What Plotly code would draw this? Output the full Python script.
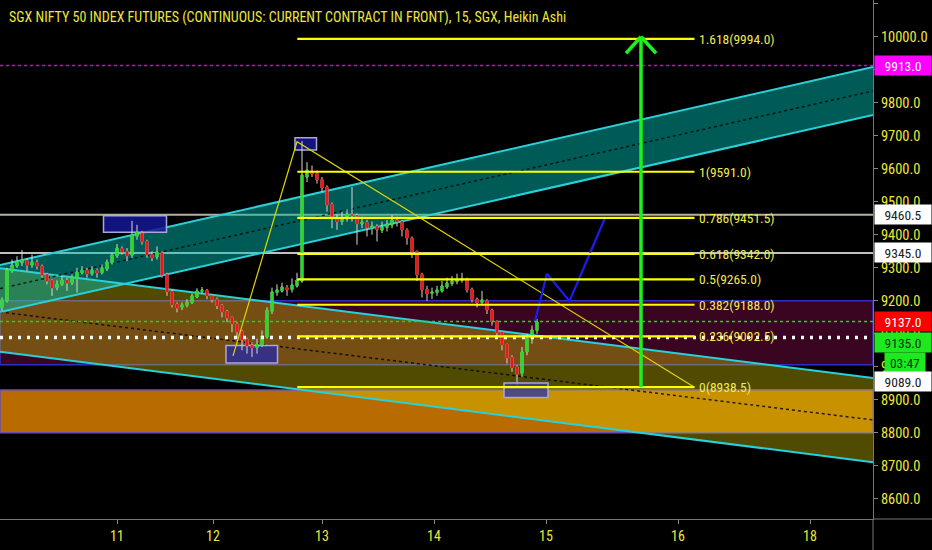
import plotly.graph_objects as go

# ---------------- data ----------------
day_labels = ["11", "12", "13", "14", "15", "16", "18"]
day_pos = [23.0, 42.2, 64.0, 86.4, 108.8, 135.2, 161.6]

opens = [9180, 9200, 9290, 9305, 9315, 9322, 9308, 9316, 9305, 9280,
         9262, 9240, 9250, 9262, 9255, 9268, 9285, 9292, 9282, 9292,
         9285, 9296, 9315, 9336, 9358, 9350, 9338, 9395, 9405, 9380,
         9340, 9333, 9345, 9280, 9228, 9190, 9180, 9186, 9195, 9212,
         9228, 9232, 9215, 9205, 9186, 9168, 9150, 9130, 9108, 9084,
         9065, 9058, 9066, 9090, 9168, 9225, 9230, 9240, 9234, 9245,
         9260, 9575, 9594, 9586, 9568, 9545, 9492, 9450, 9440, 9448,
         9460, 9458, 9433, 9438, 9420, 9426, 9414, 9422, 9430, 9444,
         9440, 9415, 9390, 9350, 9280, 9235, 9222, 9225, 9230, 9242,
         9252, 9258, 9262, 9265, 9235, 9205, 9195, 9200, 9172, 9138,
         9105, 9068, 9028, 9000, 8980, 9045, 9085, 9110]
highs = [9210, 9300, 9325, 9335, 9354, 9330, 9340, 9325, 9310, 9285,
         9265, 9262, 9275, 9270, 9280, 9300, 9305, 9300, 9305, 9298,
         9310, 9325, 9345, 9372, 9365, 9360, 9442, 9430, 9412, 9385,
         9350, 9365, 9350, 9285, 9235, 9195, 9195, 9205, 9222, 9238,
         9242, 9236, 9220, 9210, 9190, 9172, 9152, 9135, 9112, 9088,
         9075, 9085, 9110, 9180, 9240, 9250, 9255, 9248, 9268, 9285,
         9684, 9620, 9610, 9595, 9575, 9550, 9498, 9462, 9470, 9478,
         9545, 9465, 9455, 9446, 9440, 9432, 9440, 9445, 9460, 9455,
         9445, 9420, 9395, 9352, 9285, 9245, 9240, 9245, 9260, 9270,
         9275, 9282, 9285, 9270, 9240, 9210, 9230, 9205, 9176, 9140,
         9108, 9070, 9035, 9005, 9060, 9100, 9125, 9145]
lows = [9170, 9195, 9285, 9300, 9305, 9290, 9300, 9295, 9270, 9250,
        9215, 9232, 9245, 9230, 9248, 9225, 9280, 9270, 9276, 9270,
        9280, 9290, 9310, 9330, 9340, 9320, 9330, 9385, 9370, 9330,
        9320, 9325, 9270, 9215, 9180, 9165, 9172, 9180, 9190, 9208,
        9222, 9205, 9195, 9175, 9150, 9135, 9105, 9085, 9050, 9040,
        9030, 9040, 9060, 9085, 9160, 9215, 9225, 9215, 9225, 9240,
        9255, 9560, 9575, 9555, 9530, 9470, 9420, 9415, 9430, 9440,
        9440, 9370, 9420, 9395, 9400, 9380, 9405, 9410, 9420, 9425,
        9395, 9370, 9330, 9260, 9210, 9200, 9205, 9215, 9225, 9236,
        9245, 9250, 9255, 9225, 9195, 9180, 9190, 9160, 9125, 9090,
        9050, 9010, 8985, 8935, 8970, 9035, 9070, 9100]
closes = [9203, 9293, 9308, 9318, 9324, 9308, 9318, 9305, 9278, 9260,
          9239, 9251, 9263, 9254, 9272, 9287, 9293, 9281, 9293, 9284,
          9299, 9318, 9339, 9360, 9348, 9336, 9400, 9409, 9379, 9339,
          9330, 9348, 9278, 9227, 9188, 9178, 9188, 9197, 9215, 9230,
          9233, 9215, 9203, 9185, 9166, 9148, 9130, 9106, 9082, 9063,
          9057, 9069, 9094, 9172, 9227, 9233, 9242, 9233, 9248, 9263,
          9581, 9596, 9584, 9566, 9542, 9490, 9451, 9439, 9451, 9463,
          9460, 9433, 9439, 9421, 9427, 9415, 9424, 9433, 9445, 9439,
          9415, 9390, 9348, 9278, 9233, 9221, 9227, 9233, 9245, 9254,
          9260, 9263, 9266, 9233, 9203, 9194, 9203, 9172, 9136, 9103,
          9066, 9027, 8997, 8978, 9045, 9087, 9112, 9136]
bar_idx = list(range(len(closes)))

fib_ratios = ["1.618", "1", "0.786", "0.618", "0.5", "0.382", "0.236", "0"]
fib_prices = [9994.0, 9591.0, 9451.5, 9342.0, 9265.0, 9188.0, 9092.5, 8938.5]

proj_x = [106.6, 109.0, 113.5, 120.6]
proj_y = [9139, 9282, 9199, 9451]

wave_x = [46.2, 59.0, 138.4]
wave_y = [9033, 9682, 8938.5]

y_ticks = [8600, 8700, 8800, 8900, 9000, 9100, 9200, 9300, 9400, 9500,
           9600, 9700, 9800, 9900, 10000, 10100]

# ---------------- layout constants ----------------
X0, X1 = -0.4, 174.2
Y0, Y1 = 8538.8, 10111.5
FONT = "Liberation Sans Narrow, Arial Narrow, Roboto Condensed, sans-serif"
YEL = "#ece63c"

fig = go.Figure()

body_hi = [max(o, c) for o, c in zip(opens, closes)]
body_lo = [min(o, c) for o, c in zip(opens, closes)]

fig.add_trace(go.Candlestick(
    x=bar_idx, open=opens, high=highs, low=lows, close=closes,
    increasing=dict(line=dict(color="#d8d8d8", width=1), fillcolor="#d8d8d8"),
    decreasing=dict(line=dict(color="#d8d8d8", width=1), fillcolor="#d8d8d8"),
    whiskerwidth=0, hoverinfo="skip", showlegend=False))
fig.add_trace(go.Candlestick(
    x=bar_idx, open=opens, high=body_hi, low=body_lo, close=closes,
    increasing=dict(line=dict(color="#22dd22", width=1), fillcolor="#22dd22"),
    decreasing=dict(line=dict(color="#ee1414", width=1), fillcolor="#ee1414"),
    whiskerwidth=0, hoverinfo="skip", showlegend=False))

shapes = []

def rect(x0, x1, y0, y1, fill, line="rgba(0,0,0,0)", lw=0, layer="below"):
    shapes.append(dict(type="rect", xref="x", yref="y", x0=x0, x1=x1, y0=y0, y1=y1,
                       fillcolor=fill, line=dict(color=line, width=lw), layer=layer))

def seg(x0, y0, x1, y1, color, w=1, dash="solid", layer="below", xref="x"):
    shapes.append(dict(type="line", xref=xref, yref="y", x0=x0, y0=y0, x1=x1, y1=y1,
                       line=dict(color=color, width=w, dash=dash), layer=layer))

def poly(pts, fill):
    d = "M " + " L ".join(f"{x},{y}" for x, y in pts) + " Z"
    shapes.append(dict(type="path", xref="x", yref="y", path=d, fillcolor=fill,
                       line=dict(width=0), layer="below"))

# zones
rect(X0, X1, 9006, 9200, "#3a0520", "#3030c0", 1.5)
rect(X0, X1, 8800, 8930, "#b86c00", "#6a50a8", 1.5)

# horizontal levels (below channel fills)
seg(0, 9460.5, 1, 9460.5, "#b8b09a", 2, xref="paper")
seg(0, 9345.0, 1, 9345.0, "#ffffff", 1.5, xref="paper")

# descending channel
poly([(X0, 9299), (X1, 8966), (X1, 8711), (X0, 9046)], "rgba(229,214,0,0.35)")
# ascending channel
poly([(X0, 9308.5), (X1, 9908.5), (X1, 9763), (X0, 9166)], "rgba(0,191,181,0.47)")

CH = "#2ad0d8"
seg(X0, 9299, X1, 8966, CH, 2)
seg(X0, 9046, X1, 8711, CH, 2)
seg(X0, 9166, X1, 8839, "rgba(0,0,0,0.8)", 1.5, "dot")
seg(X0, 9308.5, X1, 9908.5, CH, 2)
seg(X0, 9166, X1, 9763, CH, 2)
seg(X0, 9237, X1, 9836, "rgba(0,0,0,0.75)", 1.5, "dot")

# dotted horizontal lines
seg(0, 9913, 1, 9913, "#c010c0", 1.5, "dot", xref="paper")
seg(0, 9137, 1, 9137, "#10e010", 1.5, "dot", layer="above", xref="paper")
seg(0, 9089, 1, 9089, "#ffffff", 3.5, "3px,6px", layer="above", xref="paper")

# boxes
BOXF = "rgba(22,22,150,0.85)"
BOXL = "#a8a8d8"
rect(20.3, 32.9, 9408, 9458, BOXF, BOXL, 1.5)
rect(44.8, 55.1, 9011.5, 9064.5, "rgba(45,45,150,0.85)", BOXL, 1.5)
rect(58.6, 62.9, 9657, 9694, BOXF, BOXL, 1.5)
rect(100.4, 109.2, 8907, 8951, "rgba(60,60,150,0.85)", BOXL, 1.5, layer="above")

# fib lines
for p in fib_prices:
    seg(59.06, p, 138.5, p, "#ffff00", 2.2, layer="above")

# green arrow
GA = "#1ef01e"
seg(127.8, 8938.5, 127.8, 10000, GA, 3.5, layer="above")
seg(127.8, 10000, 124.8, 9950, GA, 3.5, layer="above")
seg(127.8, 10000, 130.8, 9950, GA, 3.5, layer="above")

# right axis extension lines (frame)
shapes.append(dict(type="line", xref="paper", yref="paper", x0=1, x1=1, y0=0, y1=-0.06,
                   line=dict(color="#787878", width=1)))
shapes.append(dict(type="line", xref="paper", yref="paper", x0=1, x1=1.07, y0=0, y1=0,
                   line=dict(color="#787878", width=1)))

fig.add_trace(go.Scatter(x=wave_x, y=wave_y, mode="lines",
                         line=dict(color="#e0d400", width=1.2),
                         hoverinfo="skip", showlegend=False))
fig.add_trace(go.Scatter(x=proj_x, y=proj_y, mode="lines",
                         line=dict(color="#1c1cf0", width=2.2),
                         hoverinfo="skip", showlegend=False))

annotations = []
annotations.append(dict(
    xref="paper", yref="paper", x=0.008, y=0.966, xanchor="left", yanchor="middle",
    text="SGX NIFTY 50 INDEX FUTURES (CONTINUOUS: CURRENT CONTRACT IN FRONT), 15, SGX, Heikin Ashi",
    showarrow=False, font=dict(family=FONT, size=14, color=YEL)))

for r, p in zip(fib_ratios, fib_prices):
    annotations.append(dict(xref="x", yref="y", x=138.9, y=p, xanchor="left", yanchor="middle",
                            text=f"{r}({p:.1f})", showarrow=False,
                            font=dict(family=FONT, size=13.5, color="#f0ea50")))

def tag(price, text, bg, fg, yshift=0, xshift=1, w=54):
    annotations.append(dict(xref="paper", yref="y", x=1, y=price, xanchor="left",
                            yanchor="middle", xshift=xshift, yshift=yshift, text=text,
                            showarrow=False, bgcolor=bg, width=w, height=17, borderpad=1,
                            font=dict(family=FONT, size=13.5, color=fg)))

tag(9913.0, "9913.0", "#ff00ff", "#ffffff")
tag(9460.5, "9460.5", "#ffffff", "#202020")
tag(9345.0, "9345.0", "#ffffff", "#202020")
tag(9137.0, "9137.0", "#ff0000", "#ffffff")
tag(9135.0, "9135.0", "#1ee81e", "#0a3a0a", yshift=-20)
tag(9135.0, "03:47", "#1ee81e", "#0a3a0a", yshift=-40, xshift=11, w=38)
tag(9089.0, "9089.0", "#ffffff", "#202020", yshift=-44)

fig.update_layout(
    width=932, height=550,
    margin=dict(l=0, r=59, t=0, b=31, autoexpand=False),
    paper_bgcolor="#000000", plot_bgcolor="#000000",
    showlegend=False, hovermode=False, boxgap=0.45,
    shapes=shapes, annotations=annotations,
    xaxis=dict(range=[X0, X1], rangeslider=dict(visible=False), showgrid=False,
               zeroline=False, tickmode="array", tickvals=day_pos, ticktext=day_labels,
               ticks="outside", ticklen=4, tickcolor="#888888",
               showline=True, linecolor="#787878", linewidth=1,
               tickfont=dict(family=FONT, size=14, color=YEL)),
    yaxis=dict(range=[Y0, Y1], side="right", showgrid=False, zeroline=False,
               tickmode="array", tickvals=y_ticks, tickformat=".1f",
               ticks="outside", ticklen=4, tickcolor="#888888",
               showline=True, linecolor="#787878", linewidth=1,
               tickfont=dict(family=FONT, size=14.5, color=YEL)),
)

fig.write_html("out.html", config={"displayModeBar": False},
               post_script="document.body.style.margin='0px';document.body.style.background='#000';")
